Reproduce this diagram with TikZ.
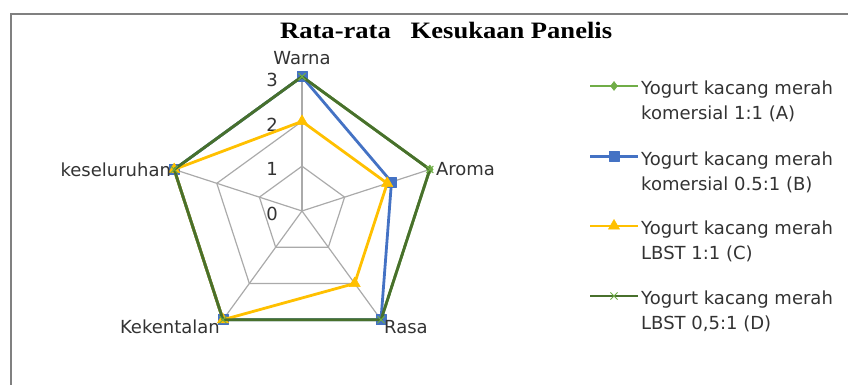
\documentclass[tikz,border=0pt]{standalone}
\usepackage{fontspec}
\setmainfont{DejaVu Sans}
\newfontfamily\titlefont{Liberation Serif}
\usetikzlibrary{positioning, plotmarks}
\definecolor{serA}{RGB}{112,173,71}
\definecolor{serB}{RGB}{68,114,196}
\definecolor{serC}{RGB}{255,192,0}
\definecolor{serD}{RGB}{72,112,44}
\definecolor{gridgray}{RGB}{170,170,170}
\tikzstyle{web} = [gridgray, line width=1.2pt]
\tikzstyle{series} = [line width=2.8pt, line join=round]
\tikzstyle{lbl} = [font=\fontsize{18}{25}\selectfont, inner sep=0pt, text=black!80]
\tikzstyle{markA} = [mark=diamond*, mark size=4.5pt, mark options={solid, fill=serA, line width=0.5pt}]
\tikzstyle{markB} = [mark=square*, mark size=5pt, mark options={solid, fill=serB, line width=0.5pt}]
\tikzstyle{markC} = [mark=triangle*, mark size=6.5pt, mark options={solid, fill=serC, line width=0.5pt}]
\tikzstyle{markD} = [mark=x, mark size=5pt, mark options={solid, serA, line width=1pt}]

\begin{document}
\begin{tikzpicture}[x=1pt, y=1pt]
\useasboundingbox (0,0) rectangle (848,385);
\draw[black!50, line width=2pt] (11,0) -- (11,370.5) -- (848,370.5);
\node[font=\titlefont\bfseries\fontsize{23.5}{28}\selectfont, anchor=base west, inner sep=0pt] (title) at (280,346) {\scalebox{1.13}[1]{Rata-rata\ \ \ Kesukaan Panelis}};

\begin{scope}[shift={(302,174)}]
% web
\foreach \a [count=\i] in {90,18,-54,-126,162} {
  \coordinate (ax\i) at (\a:134.4);
  \draw[web] (0,0) -- (ax\i);
}
\foreach \lv in {1,2,3} {
  \pgfmathsetmacro\rr{\lv*44.8}
  \draw[web] (90:\rr) -- (18:\rr) -- (-54:\rr) -- (-126:\rr) -- (162:\rr) -- cycle;
}
\foreach \lv in {0,...,3}
  \node[lbl, anchor=east] (tick\lv) at (-24, \lv*44.8-3) {\lv};

% series
\foreach \v [count=\i] in {3,3,3,3,3} \coordinate (A\i) at ({162-72*\i}:{\v*44.8});
\foreach \v [count=\i] in {3,2.1,3,3,3} \coordinate (B\i) at ({162-72*\i}:{\v*44.8});
\foreach \v [count=\i] in {2,2,2,3,3} \coordinate (C\i) at ({162-72*\i}:{\v*44.8});
\foreach \v [count=\i] in {3,3,3,3,3} \coordinate (D\i) at ({162-72*\i}:{\v*44.8});
\draw[series, serA, markA] plot coordinates {(A1) (A2) (A3) (A4) (A5)} -- cycle;
\draw[series, serB, markB] plot coordinates {(B1) (B2) (B3) (B4) (B5)} -- cycle;
\draw[series, serC, markC] plot coordinates {(C1) (C2) (C3) (C4) (C5)} -- cycle;
\draw[series, serD, markD] plot coordinates {(D1) (D2) (D3) (D4) (D5)} -- cycle;
\end{scope}

% axis names
\node[lbl, above=12pt of ax1] (warna) {Warna};
\node[lbl, right=6pt of ax2] (aroma) {Aroma};
\node[lbl, anchor=north west] (rasa) at ([xshift=3pt]ax3) {Rasa};
\node[lbl, anchor=north east] (kekentalan) at ([xshift=-3pt]ax4) {Kekentalan};
\node[lbl, left=3pt of ax5] (keseluruhan) {keseluruhan};

% legend
\draw[series, serA, markA, mark indices={2}] plot coordinates {(590,299) (614,299) (638,299)};
\draw[series, serB, markB, mark indices={2}] plot coordinates {(590,228.5) (614,228.5) (638,228.5)};
\draw[series, serC, markC, mark indices={2}] plot coordinates {(590,159) (614,159) (638,159)};
\draw[series, serD, markD, mark indices={2}] plot coordinates {(590,89) (614,89) (638,89)};
\node[lbl, anchor=base west, align=left] (legA) at (641,265) {Yogurt kacang merah\\komersial 1:1 (A)};
\node[lbl, anchor=base west, align=left] (legB) at (641,194.5) {Yogurt kacang merah\\komersial 0.5:1 (B)};
\node[lbl, anchor=base west, align=left] (legC) at (641,125) {Yogurt kacang merah\\LBST 1:1 (C)};
\node[lbl, anchor=base west, align=left] (legD) at (641,55) {Yogurt kacang merah\\LBST 0,5:1 (D)};
\end{tikzpicture}
\end{document}
